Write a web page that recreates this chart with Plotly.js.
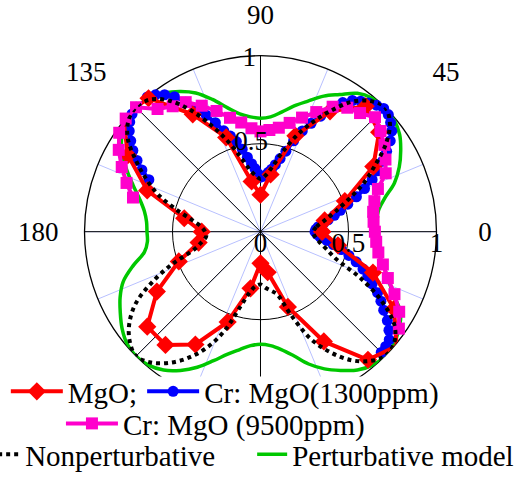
<!DOCTYPE html>
<html><head><meta charset="utf-8">
<script src="https://cdn.plot.ly/plotly-3.0.1.min.js"></script>
<style>html,body{margin:0;padding:0;background:#fff}#chart{width:530px;height:479px}</style>
</head><body><div id="chart"></div>
<script>
// ---- data ----
const mgoTheta = [0,10,20,30,40,50,60,70,80,90,100,110,120,130,140,150,160,170,180,190,200,210,220,230,240,250,260,270,280,290,300,310,320,330,340,350];
const mgoR = [0.35,0.37,0.51,0.74,0.88,0.93,0.79,0.58,0.33,0.21,0.29,0.57,0.77,0.99,1.02,0.87,0.685,0.44,0.334,0.357,0.494,0.68,0.84,0.84,0.74,0.546,0.327,0.18,0.234,0.455,0.72,0.95,1.01,0.876,0.68,0.447];

const cr1300Theta = [-45,-42.5,-40,-37.5,-35,-32.5,-30,-27.5,-25,-22.5,-20,-17.5,-15,-12.5,-10,-7.5,-5,-2.5,0,2.5,5,7.5,10,12.5,15,17.5,20,22.5,25,27.5,30,32.5,35,37.5,40,42.5,45,47.5,50,52.5,55,57.5,60,62.5,65,67.5,70,72.5,75,77.5,80,82.5,85,87.5,90,92.5,95,97.5,100,102.5,105,107.5,110,112.5,115,117.5,120,122.5,125,127.5,130,132.5,135,137.5,140,142.5,145,147.5,150,152.5,155];
const cr1300R = [0.97,0.965,0.955,0.92,0.88,0.83,0.79,0.75,0.70,0.66,0.62,0.57,0.52,0.47,0.42,0.38,0.34,0.32,0.31,0.315,0.33,0.36,0.39,0.43,0.47,0.52,0.58,0.64,0.70,0.75,0.80,0.85,0.90,0.94,0.965,0.985,0.99,0.975,0.955,0.935,0.91,0.87,0.80,0.74,0.68,0.62,0.55,0.48,0.43,0.39,0.36,0.34,0.32,0.315,0.31,0.33,0.36,0.39,0.43,0.48,0.53,0.57,0.61,0.67,0.73,0.79,0.85,0.91,0.95,0.98,1.0,1.01,1.0,0.99,0.97,0.94,0.90,0.86,0.81,0.76,0.70];

const cr9500Theta = [-35,-30,-25,-20,-15,-10,-5,0,5,10,15,20,25,30,35,40,45,50,55,60,65,70,75,80,85,90,95,100,105,110,115,120,125,130,135,140,145,150,155,160,165];
const cr9500R = [0.96,0.91,0.84,0.77,0.72,0.68,0.66,0.65,0.645,0.65,0.67,0.71,0.785,0.82,0.86,0.89,0.92,0.88,0.86,0.82,0.75,0.69,0.64,0.60,0.58,0.57,0.59,0.63,0.67,0.73,0.79,0.85,0.87,0.91,1.0,1.0,0.98,0.93,0.87,0.81,0.75];

const modelTheta = [0,5,10,15,20,25,30,35,40,45,50,55,60,65,70,75,80,85,90,95,100,105,110,115,120,125,130,135,140,145,150,155,160,165,170,175,180,185,190,195,200,205,210,215,220,225,230,235,240,245,250,255,260,265,270,275,280,285,290,295,300,305,310,315,320,325,330,335,340,345,350,355];
const nonpertR = [0.30,0.32,0.37,0.44,0.53,0.645,0.75,0.87,0.96,1.0,0.97,0.90,0.79,0.68,0.57,0.46,0.37,0.32,
                  0.30,0.32,0.36,0.44,0.55,0.67,0.80,0.91,0.98,1.0,0.98,0.92,0.82,0.72,0.62,0.50,0.40,0.34,
                  0.315,0.31,0.34,0.39,0.53,0.68,0.82,0.91,0.97,1.0,0.97,0.91,0.83,0.73,0.60,0.44,0.35,0.31,
                  0.30,0.32,0.34,0.37,0.50,0.67,0.79,0.89,0.96,1.0,0.99,0.93,0.80,0.63,0.46,0.39,0.34,0.31];
const pertR = [0.66,0.665,0.68,0.73,0.81,0.87,0.92,0.965,0.99,1.0,0.99,0.96,0.90,0.85,0.79,0.74,0.69,0.655,
               0.645,0.655,0.68,0.73,0.80,0.87,0.92,0.96,0.99,1.0,0.99,0.96,0.91,0.84,0.77,0.71,0.67,0.65,
               0.645,0.645,0.67,0.75,0.83,0.88,0.92,0.96,0.99,1.0,0.99,0.96,0.91,0.85,0.78,0.72,0.68,0.65,
               0.64,0.65,0.68,0.73,0.80,0.86,0.91,0.96,0.99,1.0,0.99,0.96,0.92,0.83,0.77,0.72,0.68,0.665];

const angleTickVals = [0,45,90,135,180,225,270,315];
const angleTickTextNear = ['','','90','','180','','',''];
const angleTickTextFar = ['0','','','135','','','',''];
const angleTickText45 = ['','45','','','','','',''];
const radialTickVals = [0,0.5,1];
const radialTickText = ['0','0.5','1'];
const radialTickValsTop = [1];
const radialTickTextTop = ['1'];
const radialTickValsMid = [0.5];
const radialTickTextMid = ['0.5'];

// ---- chart ----
const close = a => a.concat([a[0]]);
const FONT = 'Liberation Serif, Times New Roman, serif';
const empty = sp => ({type:'scatterpolar', subplot:sp, r:[], theta:[], mode:'lines', showlegend:false, hoverinfo:'skip'});

const traces = [
  empty('polar'), empty('polar2'), empty('polar6'), empty('polar7'),
  {type:'scatterpolar', subplot:'polar3', name:'Perturbative model', legend:'legend3', legendrank:2,
   theta:close(modelTheta), r:close(pertR), mode:'lines', cliponaxis:false,
   line:{color:'#00C800', width:3.5, shape:'spline'}},
  {type:'scatterpolar', subplot:'polar3', name:'Cr: MgO(1300ppm)', legend:'legend', legendrank:2,
   theta:cr1300Theta, r:cr1300R, mode:'lines+markers', cliponaxis:false,
   line:{color:'#0000FF', width:4}, marker:{symbol:'circle', size:11, color:'#0000FF'}},
  {type:'scatterpolar', subplot:'polar3', name:'MgO;', legend:'legend', legendrank:1,
   theta:close(mgoTheta), r:close(mgoR), mode:'lines+markers', cliponaxis:false,
   line:{color:'#FF0000', width:4}, marker:{symbol:'diamond', size:14, color:'#FF0000'}},
  {type:'scatterpolar', subplot:'polar3', name:'Cr: MgO (9500ppm)', legend:'legend2',
   theta:cr9500Theta, r:cr9500R, mode:'lines+markers', cliponaxis:false,
   line:{color:'#FF00CC', width:4}, marker:{symbol:'square', size:12, color:'#FF00CC'}},
  {type:'scatterpolar', subplot:'polar3', name:'Nonperturbative', legend:'legend3', legendrank:1,
   theta:close(modelTheta), r:close(nonpertR), mode:'lines', cliponaxis:false,
   line:{color:'#000000', width:4, dash:'dot', shape:'spline'}},
  empty('polar4'), empty('polar5'), empty('polar8')
];

const shiftDom = (dx, dy) => ({x:[0.1594+dx/530, 0.8236+dx/530], y:[0.1489+dy/479, 0.8837+dy/479]});
const dom = shiftDom(0, 0);
const hiddenAngular = {visible:false};
const hiddenRadial = {visible:false, range:[0,1]};
const LF = {family:FONT, size:29, color:'#000'};
const TF = {family:FONT, size:27, color:'#000'};
const labelAngular = (text, len) => ({tickmode:'array', tickvals:angleTickVals, ticktext:text, showgrid:false,
                 showline:false, ticks:'outside', ticklen:len, tickcolor:'rgba(0,0,0,0)', tickfont:TF});
const labelRadial = (vals, text, angle, side, tickangle) => ({range:[0,1], angle:angle, side:side, tickmode:'array',
                 tickvals:vals, ticktext:text, showgrid:false, showline:false, ticks:'', tickfont:TF, tickangle:tickangle});
const layout = {
  width:530, height:479, margin:{l:0,r:0,t:0,b:0, autoexpand:false},
  paper_bgcolor:'#ffffff', plot_bgcolor:'#ffffff',
  font:{family:FONT, size:27, color:'#000'},
  showlegend:true,
  polar:{domain:dom, bgcolor:'rgba(0,0,0,0)',
    angularaxis:{tickmode:'linear', tick0:0, dtick:22.5, showgrid:true, gridcolor:'#B8C0FF', gridwidth:1,
                 showline:false, showticklabels:false, ticks:''},
    radialaxis:hiddenRadial},
  polar2:{domain:dom, bgcolor:'rgba(0,0,0,0)',
    angularaxis:{tickmode:'array', tickvals:angleTickVals, ticktext:angleTickTextNear, showgrid:true,
                 gridcolor:'#000', gridwidth:1, showline:true, linecolor:'#000', linewidth:1.3,
                 ticks:'outside', ticklen:20, tickcolor:'rgba(0,0,0,0)', tickfont:TF},
    radialaxis:{range:[0,1], tickmode:'array', tickvals:[0.5], showgrid:true, gridcolor:'#000', gridwidth:1,
                showline:false, showticklabels:false, ticks:''}},
  polar6:{domain:dom, bgcolor:'rgba(0,0,0,0)', angularaxis:labelAngular(angleTickTextFar, 36), radialaxis:hiddenRadial},
  polar7:{domain:shiftDom(18, 0), bgcolor:'rgba(0,0,0,0)', angularaxis:labelAngular(angleTickText45, 36), radialaxis:hiddenRadial},
  polar3:{domain:dom, bgcolor:'rgba(0,0,0,0)', angularaxis:hiddenAngular, radialaxis:hiddenRadial},
  polar5:{domain:shiftDom(0, 7), bgcolor:'rgba(0,0,0,0)', angularaxis:hiddenAngular,
    radialaxis:labelRadial(radialTickVals, radialTickText, 0, 'clockwise', 'auto')},
  polar4:{domain:shiftDom(0, -2), bgcolor:'rgba(0,0,0,0)', angularaxis:hiddenAngular,
    radialaxis:labelRadial(radialTickValsTop, radialTickTextTop, 90, 'counterclockwise', 90)},
  polar8:{domain:shiftDom(12, 2), bgcolor:'rgba(0,0,0,0)', angularaxis:hiddenAngular,
    radialaxis:labelRadial(radialTickValsMid, radialTickTextMid, 90, 'counterclockwise', 90)},
  shapes:[{type:'rect', xref:'paper', yref:'paper', x0:-0.05, x1:1.05, y0:-0.05, y1:0.214, layer:'above',
           fillcolor:'#ffffff', line:{width:0}}],
  legend:{orientation:'h', x:0.011, y:0.236, xanchor:'left', yanchor:'top', bgcolor:'rgba(0,0,0,0)', font:LF, itemwidth:52},
  legend2:{orientation:'h', x:0.115, y:0.169, xanchor:'left', yanchor:'top', bgcolor:'rgba(0,0,0,0)', font:LF, itemwidth:52},
  legend3:{orientation:'h', x:-0.028, y:-0.002, xanchor:'left', yanchor:'bottom', bgcolor:'rgba(0,0,0,0)', font:LF,
          entrywidthmode:'pixels', entrywidth:222}
};
Plotly.newPlot('chart', traces, layout, {displayModeBar:false, staticPlot:true});
</script></body></html>
